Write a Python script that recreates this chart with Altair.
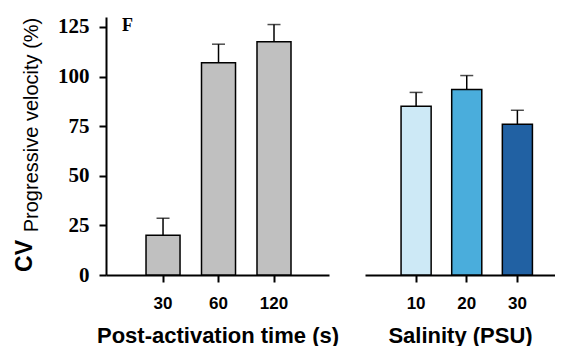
import altair as alt
import pandas as pd

# ---- data ----
time_labels = ["30", "60", "120"]
time_means = [20.0, 107.0, 117.5]
time_se = [8.6, 9.3, 8.7]
time_colors = ["#c0c0c0", "#c0c0c0", "#c0c0c0"]

sal_labels = ["10", "20", "30"]
sal_means = [85.0, 93.5, 76.0]
sal_se = [7.0, 7.0, 7.0]
sal_colors = ["#cde9f6", "#4aaddc", "#2161a3"]

y_ticks = [0, 25, 50, 75, 100, 125]

time_df = pd.DataFrame({
    "cat": time_labels,
    "mean": time_means,
    "upper": [m + e for m, e in zip(time_means, time_se)],
    "color": time_colors,
})
sal_df = pd.DataFrame({
    "cat": sal_labels,
    "mean": sal_means,
    "upper": [m + e for m, e in zip(sal_means, sal_se)],
    "color": sal_colors,
})

SERIF = "Liberation Serif"
SANS = "Liberation Sans"
YDOM = [0, 130]
H = 258


def panel(df, order, title, show_y, xscale):
    xaxis = alt.Axis(
        title=title, labelAngle=0, labelFont=SANS, labelFontSize=17,
        labelFontWeight="bold", labelColor="black", labelPadding=13,
        tickSize=7, tickWidth=2, tickColor="black", domainWidth=2,
        domainColor="black", titleFont=SANS, titleFontSize=22,
        titleFontWeight="bold", titleColor="black",
        titleBaseline="alphabetic", titleY=67,
    )
    if show_y:
        yaxis = alt.Axis(
            title=None, values=y_ticks, labelFont=SERIF, labelFontSize=21,
            labelFontWeight="bold", labelColor="black", labelPadding=10,
            tickSize=7, tickWidth=2, tickColor="black", domainWidth=2,
            domainColor="black", grid=False,
        )
    else:
        yaxis = None
    x = alt.X("cat:N", sort=order, scale=xscale, axis=xaxis)
    y = alt.Y("mean:Q", scale=alt.Scale(domain=YDOM, nice=False), axis=yaxis)
    xn = alt.X("cat:N", sort=order, scale=xscale)
    base = alt.Chart(df)
    bars = base.mark_bar(stroke="black", strokeWidth=1.5).encode(
        x=x, y=y, fill=alt.Fill("color:N", scale=None)
    )
    err = base.mark_rule(color="black", strokeWidth=1.5).encode(
        x=xn, y="mean:Q", y2="upper:Q"
    )
    cap = base.mark_tick(color="black", orient="horizontal", size=13,
                         thickness=1.5).encode(x=xn, y="upper:Q")
    return [bars, err, cap]


lab_df = pd.DataFrame({"t": ["F"]})
f_text = alt.Chart(lab_df).mark_text(
    font=SERIF, fontSize=18, fontWeight="bold", align="left",
    baseline="alphabetic", color="black"
).encode(text="t:N", x=alt.value(16), y=alt.value(14))
cv_df = pd.DataFrame({"t": ["CV"]})
cv_text = alt.Chart(cv_df).mark_text(
    font=SANS, fontSize=23, fontWeight="bold", angle=270, align="center",
    baseline="alphabetic", color="black"
).encode(text="t:N", x=alt.value(-74), y=alt.value(239))
sub_df = pd.DataFrame({"t": ["Progressive velocity (%)"]})
sub_text = alt.Chart(sub_df).mark_text(
    font=SANS, fontSize=20, angle=270, align="center",
    baseline="alphabetic", color="black"
).encode(text="t:N", x=alt.value(-68), y=alt.value(108))

left_scale = alt.Scale(paddingInner=0.387, paddingOuter=0.703, align=0.513)
right_scale = alt.Scale(paddingInner=0.406, paddingOuter=0.579, align=0.615)

left = alt.layer(
    *panel(time_df, time_labels, "Post-activation time (s)", True, left_scale),
    f_text, cv_text, sub_text,
).properties(width=223, height=H)
right = alt.layer(
    *panel(sal_df, sal_labels, "Salinity (PSU)", False, right_scale)
).properties(width=190, height=H)

chart = alt.hconcat(left, right, spacing=36, bounds="flush").properties(
    padding={"left": 6, "top": 7, "right": 0, "bottom": 0},
    background="white",
).configure_view(stroke=None)

chart.save("out.html", embed_options={"renderer": "svg", "actions": False})
